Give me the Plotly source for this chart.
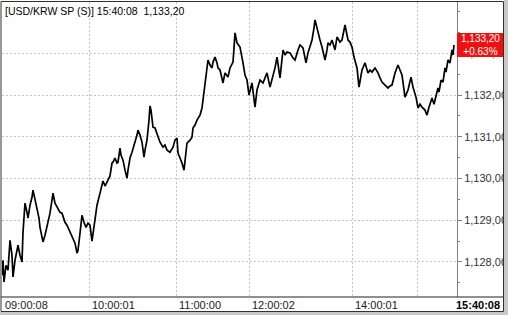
import plotly.graph_objects as go

# ---- data ----
tick_index = [0, 1, 2, 4, 6, 8, 10, 11, 13, 15, 16, 18, 20, 21, 23, 25, 26, 28, 30, 31, 33, 35, 37, 38, 40, 41, 43, 45, 47, 48,
              50, 51, 53, 55, 58, 60, 63, 65, 68, 70, 72, 73, 75, 76, 78, 80, 82, 84, 86, 88, 90, 92, 93, 95, 98, 100, 101, 103, 105, 108,
              110, 111, 113, 115, 116, 118, 119, 121, 123, 125, 126, 128, 130, 133, 135, 136, 138, 140, 142, 143, 145, 147, 148, 149, 151, 153, 155, 158, 161, 163,
              165, 168, 171, 173, 175, 176, 178, 180, 182, 183, 185, 188, 190, 191, 193, 195, 198, 200, 201, 203, 205, 206, 208, 210, 211, 213, 215, 216, 218, 220,
              221, 223, 226, 228, 231, 232, 233, 235, 238, 241, 243, 245, 247, 250, 252, 253, 255, 258, 261, 263, 265, 268, 271, 273, 275, 278, 281, 283, 285, 288,
              291, 293, 296, 298, 301, 304, 306, 308, 310, 312, 313, 315, 316, 318, 320, 323, 325, 326, 328, 330, 333, 335, 338, 340, 342, 343, 345, 346, 348, 350,
              352, 355, 357, 358, 360, 363, 366, 368, 370, 373, 376, 378, 380, 383, 386, 388, 390, 393, 396, 398, 400, 403, 406, 409, 411, 414, 416, 418, 420, 423,
              425, 427, 430, 432, 434, 436, 437, 439, 441, 443, 444, 446, 448, 450, 451, 452]
price = [1127.68, 1128.04, 1127.52, 1127.92, 1127.80, 1128.52, 1128.16, 1127.64, 1128.04, 1128.28, 1128.40, 1128.16, 1128.00, 1128.71, 1129.41, 1129.19, 1129.05, 1129.36, 1129.55, 1129.72,
         1129.48, 1129.31, 1129.05, 1128.83, 1128.64, 1128.48, 1128.64, 1128.83, 1129.05, 1129.17, 1129.48, 1129.65, 1129.41, 1129.31, 1129.19, 1129.17, 1128.95, 1128.88, 1128.71, 1128.60,
         1128.52, 1128.45, 1128.21, 1128.28, 1128.69, 1129.12, 1128.95, 1128.83, 1128.93, 1128.88, 1128.50, 1128.81, 1129.00, 1129.36, 1129.65, 1129.89, 1129.94, 1129.82, 1129.91, 1130.06,
         1130.37, 1130.39, 1130.49, 1130.37, 1130.39, 1130.73, 1130.56, 1130.44, 1130.20, 1130.01, 1130.20, 1130.49, 1130.63, 1130.85, 1131.04, 1131.16, 1131.04, 1130.87, 1130.51, 1130.68,
         1130.92, 1131.40, 1131.74, 1131.64, 1131.23, 1131.21, 1131.09, 1130.87, 1130.75, 1130.80, 1130.68, 1130.63, 1130.75, 1130.92, 1130.97, 1130.61, 1130.49, 1130.37, 1130.20, 1130.44,
         1130.85, 1130.92, 1130.99, 1131.21, 1131.28, 1131.40, 1131.52, 1131.69, 1131.88, 1132.36, 1132.60, 1132.84, 1132.72, 1132.65, 1132.79, 1132.91, 1132.77, 1132.65, 1132.60, 1132.41,
         1132.29, 1132.53, 1132.43, 1132.65, 1132.79, 1133.13, 1133.49, 1133.25, 1133.15, 1132.77, 1132.48, 1132.36, 1132.00, 1132.29, 1131.88, 1131.71, 1132.12, 1132.36, 1132.29, 1132.41,
         1132.53, 1132.19, 1132.43, 1132.65, 1132.91, 1132.41, 1133.08, 1132.96, 1133.03, 1133.01, 1132.89, 1132.84, 1133.08, 1133.20, 1133.13, 1132.77, 1133.01, 1133.18, 1133.32, 1133.61,
         1133.80, 1133.61, 1133.49, 1133.32, 1133.15, 1132.84, 1133.08, 1133.25, 1133.20, 1133.32, 1133.08, 1133.39, 1133.27, 1133.32, 1133.56, 1133.68, 1133.44, 1133.32, 1133.27, 1133.15,
         1132.91, 1132.65, 1132.19, 1132.36, 1132.60, 1132.77, 1132.53, 1132.60, 1132.55, 1132.65, 1132.53, 1132.41, 1132.31, 1132.24, 1132.17, 1132.22, 1132.24, 1132.53, 1132.72, 1132.60,
         1132.48, 1131.95, 1132.12, 1132.43, 1132.19, 1131.95, 1131.69, 1131.78, 1131.71, 1131.64, 1131.52, 1131.71, 1131.93, 1131.78, 1132.00, 1132.17, 1132.07, 1132.36, 1132.31, 1132.65,
         1132.55, 1132.84, 1132.77, 1133.08, 1132.96, 1133.20]

time_tick_pos = [0, 87, 174, 247, 350, 415]
time_tick_text = ["09:00:08", "10:00:01", "11:00:00", "12:00:02", "14:00:01", ""]
last_time = "15:40:08"
last_price_text = "1,133,20"
change_text = "+0.63%"
title_text = "[USD/KRW SP (S)] 15:40:08  1,133,20"
price_ticks = [1128, 1129, 1130, 1131, 1132, 1133]
price_tick_text = ["1,128,00", "1,129,00", "1,130,00", "1,131,00", "1,132,00", "1,133,00"]

# ---- layout geometry (pixels) ----
W, H = 508, 315
L, R, T, B = 2, 51, 2, 18
PW, PH = W - L - R, H - T - B


def px(x):
    return (x - L) / PW


def py(y):
    return (H - B - y) / PH


fig = go.Figure()
fig.add_trace(go.Scatter(x=tick_index, y=price, mode="lines",
                         line=dict(color="black", width=1.7), hoverinfo="skip"))

grid = dict(gridcolor="#c4c4c4", griddash="2px,2px", gridwidth=1)
fig.update_xaxes(range=[0, 455], tickmode="array", tickvals=time_tick_pos,
                 showticklabels=False, ticks="", showline=False, zeroline=False, **grid)
fig.update_yaxes(range=[1127.16, 1134.23], side="right", tickmode="array",
                 tickvals=price_ticks, ticktext=price_tick_text,
                 ticks="outside", ticklen=4, tickcolor="#808080",
                 showline=True, linecolor="#808080", linewidth=1, zeroline=False,
                 tickfont=dict(family="Liberation Sans", size=11, color="#333333"),
                 minor=dict(dtick=0.5, ticks="outside", ticklen=2, tickcolor="#808080", showgrid=False),
                 **grid)

shapes = [
    # x-axis band top line
    dict(type="line", xref="paper", yref="paper", x0=px(1), x1=px(503.5), y0=py(297), y1=py(297),
         line=dict(color="#202020", width=1), layer="above"),
    # outer frame
    dict(type="rect", xref="paper", yref="paper", x0=px(1), x1=px(503.5), y0=py(311.5), y1=py(1.5),
         line=dict(color="#303030", width=1), layer="above"),
    # right grey strip
    dict(type="rect", xref="paper", yref="paper", x0=px(504), x1=px(509), y0=py(316), y1=py(-1),
         fillcolor="#c8c8c8", line=dict(width=0), layer="above"),
    # bottom grey strip
    dict(type="rect", xref="paper", yref="paper", x0=px(-1), x1=px(509), y0=py(316), y1=py(312),
         fillcolor="#c8c8c8", line=dict(width=0), layer="above"),
    # last price red box
    dict(type="rect", xref="paper", yref="y", x0=px(457), x1=px(503), ysizemode="pixel",
         yanchor=price[-1], y0=-12, y1=12, fillcolor="#f01010", line=dict(width=0), layer="above"),
]

annotations = [
    dict(text=title_text, xref="paper", yref="paper", x=px(3), y=py(3), xanchor="left", yanchor="top",
         showarrow=False, font=dict(family="Liberation Sans", size=10.5, color="black")),
    dict(text=last_price_text + "<br>" + change_text, xref="paper", yref="y", x=px(480), y=price[-1],
         xanchor="center", yanchor="middle", showarrow=False, borderpad=0,
         font=dict(family="Liberation Sans", size=10, color="white")),
    dict(text="<b>" + last_time + "</b>", xref="paper", yref="paper", x=px(502), y=py(304.5),
         xanchor="right", yanchor="middle", showarrow=False,
         font=dict(family="Liberation Sans", size=11, color="black")),
]
for pos, lab in zip(time_tick_pos, time_tick_text):
    if lab:
        annotations.append(dict(text=lab, xref="x", yref="paper", x=pos, y=py(304.5), xshift=1,
                                xanchor="left", yanchor="middle", showarrow=False,
                                font=dict(family="Liberation Sans", size=11, color="#202020")))

fig.update_layout(width=W, height=H, margin=dict(l=L, r=R, t=T, b=B),
                  paper_bgcolor="white", plot_bgcolor="white", showlegend=False,
                  shapes=shapes, annotations=annotations)

fig.write_html("out.html", config={"displayModeBar": False})
